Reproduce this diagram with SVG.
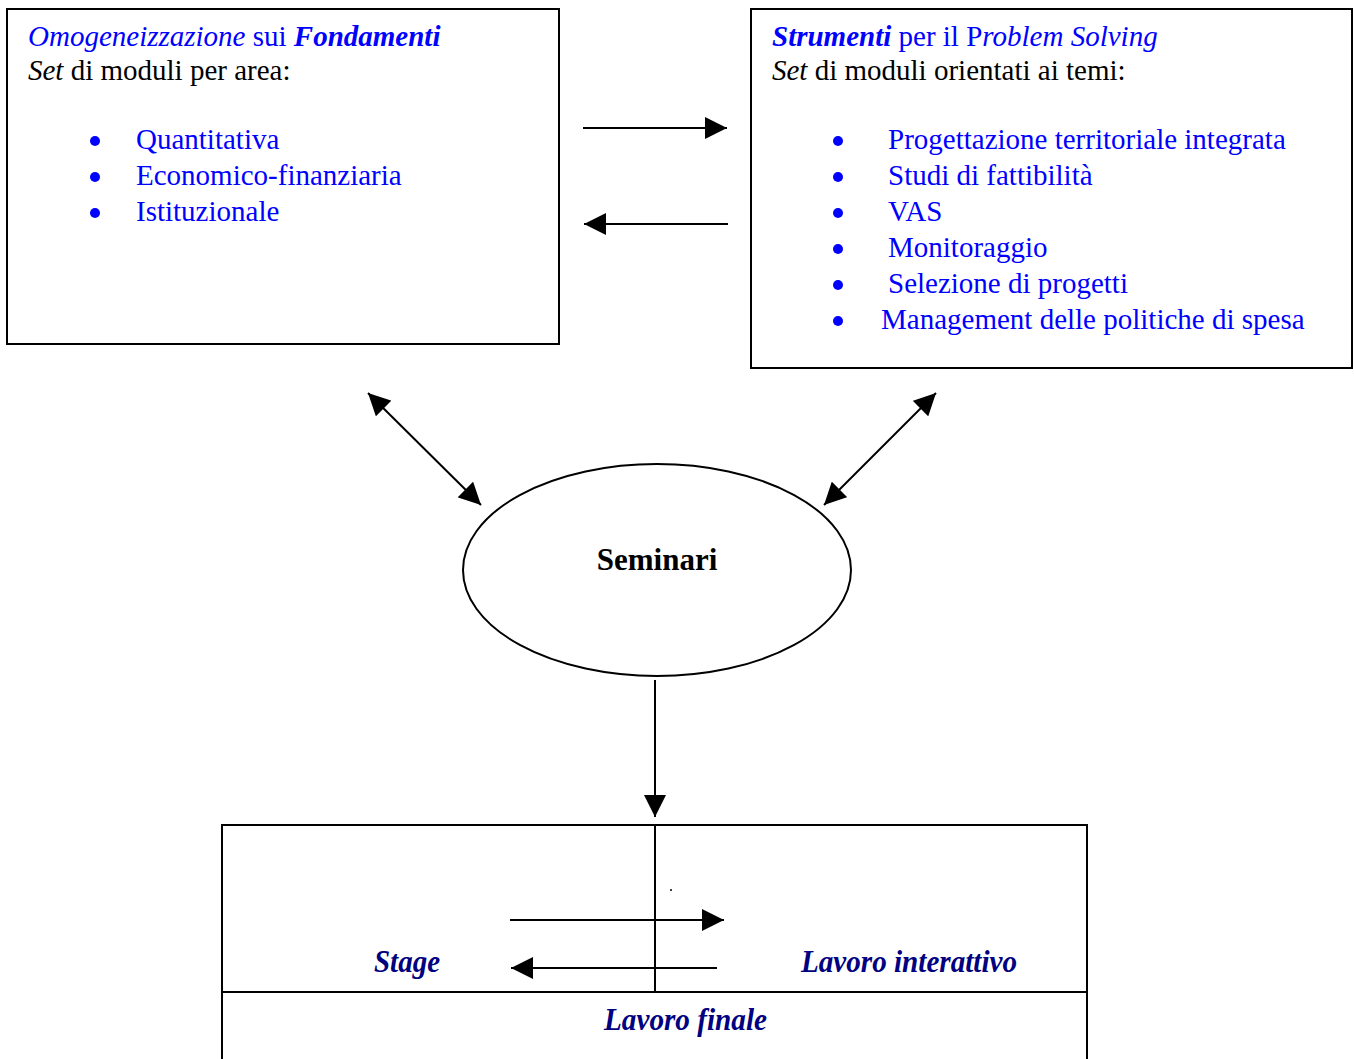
<svg xmlns="http://www.w3.org/2000/svg" width="1354" height="1059" viewBox="0 0 1354 1059">
<defs>
<marker id="ah" markerUnits="userSpaceOnUse" markerWidth="22" markerHeight="22" viewBox="0 0 22 22" refX="22" refY="11" orient="auto-start-reverse">
<path d="M0,0 L22,11 L0,22 Z" fill="#000"/>
</marker>
<style>
.box{fill:#fff;stroke:#000;stroke-width:2}
.t{font-family:"Liberation Serif","Times New Roman",serif;font-size:29px}
.blue{fill:#0000ff}
.blk{fill:#000}
.navy{font-family:"Liberation Serif","Times New Roman",serif;font-size:31px;font-weight:bold;font-style:italic;fill:#000080}
.ln{stroke:#000;stroke-width:2;fill:none}
</style>
</defs>
<rect width="1354" height="1059" fill="#fff"/>
<g id="fondamenti">
<rect class="box" x="7" y="9" width="552" height="335"/>
<text class="t" x="28" y="46"><tspan class="blue" font-style="italic">Omogeneizzazione</tspan><tspan class="blue"> sui </tspan><tspan class="blue" font-style="italic" font-weight="bold">Fondamenti</tspan></text>
<text class="t blk" x="28" y="80"><tspan font-style="italic">Set</tspan> di moduli per area:</text>
<g class="blue">
<circle cx="95" cy="141" r="5"/><circle cx="95" cy="177" r="5"/><circle cx="95" cy="213" r="5"/>
</g>
<text class="t blue" x="136" y="149">Quantitativa</text>
<text class="t blue" x="136" y="185">Economico-finanziaria</text>
<text class="t blue" x="136" y="221">Istituzionale</text>
</g>
<g id="strumenti">
<rect class="box" x="751" y="9" width="601" height="359"/>
<text class="t" x="772" y="46"><tspan class="blue" font-style="italic" font-weight="bold">Strumenti</tspan><tspan class="blue"> per il P</tspan><tspan class="blue" font-style="italic">roblem Solving</tspan></text>
<text class="t blk" x="772" y="80"><tspan font-style="italic">Set</tspan> di moduli orientati ai temi:</text>
<g class="blue">
<circle cx="838" cy="141" r="5"/><circle cx="838" cy="177" r="5"/><circle cx="838" cy="213" r="5"/><circle cx="838" cy="249" r="5"/><circle cx="838" cy="285" r="5"/><circle cx="838" cy="321" r="5"/>
</g>
<text class="t blue" x="888" y="149">Progettazione territoriale integrata</text>
<text class="t blue" x="888" y="185">Studi di fattibilità</text>
<text class="t blue" x="888" y="221">VAS</text>
<text class="t blue" x="888" y="257">Monitoraggio</text>
<text class="t blue" x="888" y="293">Selezione di progetti</text>
<text class="t blue" x="881" y="329">Management delle politiche di spesa</text>
</g>
<g id="seminari">
<ellipse cx="657" cy="570" rx="194" ry="106" fill="#fff" stroke="#000" stroke-width="2"/>
<text x="657" y="570" text-anchor="middle" font-family="'Liberation Serif','Times New Roman',serif" font-size="31" font-weight="bold" fill="#000">Seminari</text>
</g>
<g id="stage-lavoro">
<rect class="box" x="222" y="825" width="865" height="250"/>
<line class="ln" x1="222" y1="992" x2="1087" y2="992"/>
<line class="ln" x1="655" y1="825" x2="655" y2="992"/>
<circle cx="671" cy="890" r="1" fill="#000"/>
<text class="navy" x="374" y="972" textLength="66" lengthAdjust="spacingAndGlyphs">Stage</text>
<text class="navy" x="801" y="972" textLength="216" lengthAdjust="spacingAndGlyphs">Lavoro interattivo</text>
<text class="navy" x="604" y="1030" textLength="163" lengthAdjust="spacingAndGlyphs">Lavoro finale</text>
</g>
<g id="connectors">
<line class="ln" x1="583" y1="128" x2="727" y2="128" marker-end="url(#ah)"/>
<line class="ln" x1="728" y1="224" x2="584" y2="224" marker-end="url(#ah)"/>
<line class="ln" x1="368" y1="393" x2="481" y2="505" marker-start="url(#ah)" marker-end="url(#ah)"/>
<line class="ln" x1="936" y1="393" x2="824" y2="505" marker-start="url(#ah)" marker-end="url(#ah)"/>
<line class="ln" x1="655" y1="680" x2="655" y2="817" marker-end="url(#ah)"/>
<line class="ln" x1="510" y1="920" x2="724" y2="920" marker-end="url(#ah)"/>
<line class="ln" x1="717" y1="968" x2="511" y2="968" marker-end="url(#ah)"/>
</g>
</svg>
